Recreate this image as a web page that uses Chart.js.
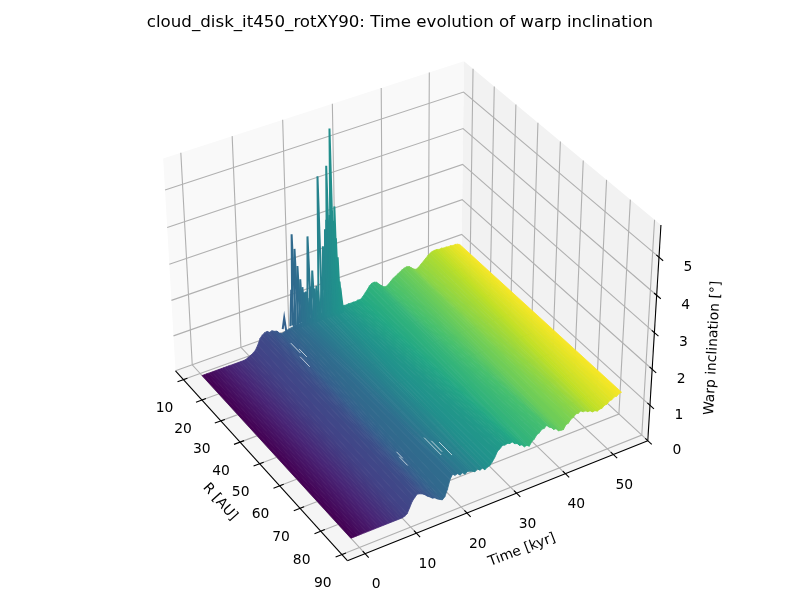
<!DOCTYPE html>
<html>
<head>
<meta charset="utf-8">
<style>
  html, body { margin: 0; padding: 0; background: #fff; }
  canvas { display: block; }
</style>
<script src="https://cdn.jsdelivr.net/npm/chart.js@4"></script>
</head>
<body>
<canvas id="chart" width="800" height="600"></canvas>
<script>
//---------------------------------------- data ----------------------------------------//
const titleText = "cloud_disk_it450_rotXY90: Time evolution of warp inclination";
const rTicks = [10, 20, 30, 40, 50, 60, 70, 80, 90];
const timeTicks = [0, 10, 20, 30, 40, 50];
const incTicks = [0, 1, 2, 3, 4, 5];

const innerR = 11;
const outerR = 86;

const timeKyr = [
  0, 0.5, 1, 1.5, 2, 2.5, 3, 3.5, 4, 4.5,
  5, 5.5, 6, 6.5, 7, 7.5, 8, 8.5, 9, 9.5,
  10, 10.5, 11, 11.5, 12, 12.5, 13, 13.5, 14, 14.5,
  15, 15.5, 16, 16.5, 17, 17.5, 18, 18.5, 19, 19.5,
  20, 20.5, 21, 21.5, 22, 22.5, 23, 23.5, 24, 24.5,
  25, 25.5, 26, 26.5, 27, 27.5, 28, 28.5, 29, 29.5,
  30, 30.5, 31, 31.5, 32, 32.5, 33, 33.5, 34, 34.5,
  35, 35.5, 36, 36.5, 37, 37.5, 38, 38.5, 39, 39.5,
  40, 40.5, 41, 41.5, 42, 42.5, 43, 43.5, 44, 44.5,
  45, 45.5, 46, 46.5, 47, 47.5, 48, 48.5, 49, 49.5,
  50, 50.5, 51, 51.5, 52, 52.5, 53, 53.5, 54, 54.5
];

// inclination at the inner edge of the disk, one value per time
const innerInc = [
  0, 0, 0, 0, 0, 0, 0, 0, 0, 0,
  0, 0, 0, 0, 0, 0, 0, 0, 0.01, 0.05,
  0.08, 0.12, 0.18, 0.3, 0.46, 0.54, 0.58, 0.59, 0.54, 0.56,
  0.52, 0.5, 0.42, 0.38, 0.4, 0.42, 0.44, 0.45, 0.46, 0.47,
  0.48, 0.48, 0.5, 0.5, 0.52, 0.52, 0.53, 0.54, 0.54, 0.55,
  0.56, 0.56, 0.57, 0.58, 0.58, 0.59, 0.58, 0.56, 0.57, 0.55,
  0.54, 0.55, 0.54, 0.55, 0.54, 0.56, 0.55, 0.6, 0.68, 0.76,
  0.85, 0.9, 0.91, 0.88, 0.81, 0.74, 0.68, 0.66, 0.7, 0.76,
  0.82, 0.86, 0.9, 0.94, 0.98, 1.01, 1.02, 1, 0.94, 0.88,
  0.85, 0.88, 0.94, 1, 1.06, 1.12, 1.17, 1.2, 1.21, 1.21,
  1.19, 1.2, 1.18, 1.19, 1.17, 1.18, 1.16, 1.17, 1.15, 1.12
];

// inclination at the outer edge of the disk, one value per time
const outerInc = [
  0, 0, 0, 0, 0, 0, 0, 0, 0, 0,
  0, 0, 0, 0, 0, 0, 0, 0, 0, 0,
  0, 0.02, 0.06, 0.2, 0.35, 0.43, 0.5, 0.48, 0.45, 0.4,
  0.33, 0.28, 0.22, 0.2, 0.14, 0.1, 0.06, 0.12, 0.3, 0.55,
  0.67, 0.61, 0.63, 0.56, 0.6, 0.53, 0.58, 0.56, 0.53, 0.49,
  0.54, 0.48, 0.51, 0.44, 0.48, 0.5, 0.58, 0.68, 0.82, 0.86,
  0.93, 0.91, 0.93, 0.9, 0.92, 0.84, 0.82, 0.74, 0.73, 0.65,
  0.66, 0.61, 0.71, 0.76, 0.85, 0.88, 0.95, 0.95, 1.01, 0.93,
  0.89, 0.81, 0.81, 0.72, 0.71, 0.7, 0.81, 0.83, 0.91, 0.94,
  1.01, 1, 1.04, 0.99, 0.99, 0.94, 0.94, 0.88, 0.89, 0.85,
  0.88, 0.88, 0.94, 0.94, 1.01, 1.01, 1.07, 1.06, 1.11, 1.12
];

// narrow peaks near the inner edge
const spikeTimes = [16.7, 18.3, 18.7, 19.2, 19.7, 20.2, 20.6, 20.9, 21.3, 21.6, 21.9, 22.2, 22.7, 23.1, 23.5, 23.8, 24.2, 24.6, 25, 25.5, 25.8, 26, 26.2, 26.5, 26.8, 27, 27.3, 27.5, 27.7, 28, 28.3, 28.6];
const spikeInc = [0.88, 1.6, 3.13, 2.7, 2.2, 1.8, 1.56, 1.4, 1.4, 1.2, 2.92, 1.5, 1.93, 1.4, 1.45, 1.3, 4.46, 1.6, 2.5, 2.95, 3.2, 4.66, 2.9, 3.3, 5.62, 3.4, 3.1, 3.49, 2.6, 2.05, 1.35, 0.95];
const spikeR = 12;

// thin white slits left open between the curves
const slitTimes = [16, 15.5, 16.5, 17.1, 17.4, 23, 23.6, 24.3];
const slitStartR = [17, 23, 20, 68, 66, 66, 68, 70];
const slitEndR = [22, 28, 24, 72, 69, 74, 73, 76];
const slitInc = [0.47, 0.45, 0.45, 0.2, 0.2, 0.3, 0.3, 0.35];

//---------------------------------------- 3D view ----------------------------------------//
const rLim = [5.65, 92.6];
const timeLim = [-3.4, 57.3];
const incLim = [0, 5.83];

const elev = 36 * Math.PI / 180;
const azim = -31.5 * Math.PI / 180;
const dist = 10;
const boxX = 1.1905, boxY = 1.1905, boxZ = 0.8929;
const viewScale = 2960;
const viewCx = 408;
const viewCy = 301;

const eyeDir = [Math.cos(elev) * Math.cos(azim), Math.cos(elev) * Math.sin(azim), Math.sin(elev)];
const rightDir = [-Math.sin(azim), Math.cos(azim), 0];
const upDir = [
  eyeDir[1] * rightDir[2] - eyeDir[2] * rightDir[1],
  eyeDir[2] * rightDir[0] - eyeDir[0] * rightDir[2],
  eyeDir[0] * rightDir[1] - eyeDir[1] * rightDir[0]
];

function dot(a, b) {
  return a[0] * b[0] + a[1] * b[1] + a[2] * b[2];
}

// data (R, time, inclination) -> value on the two hidden chart scales
function project(r, t, inc) {
  const p = [
    ((r - rLim[0]) / (rLim[1] - rLim[0]) - 0.5) * boxX,
    ((t - timeLim[0]) / (timeLim[1] - timeLim[0]) - 0.5) * boxY,
    ((inc - incLim[0]) / (incLim[1] - incLim[0]) - 0.5) * boxZ
  ];
  const depth = dist - dot(p, eyeDir);
  return {
    x: viewCx + viewScale * dot(p, rightDir) / depth,
    y: viewCy - viewScale * dot(p, upDir) / depth
  };
}

const viridisStops = ["#440154", "#482475", "#414487", "#355f8d", "#2a788e", "#21918c", "#22a884", "#44bf70", "#7ad151", "#bddf26", "#fde725"];

function viridis(f) {
  const pos = Math.min(Math.max(f, 0), 1) * (viridisStops.length - 1);
  const i = Math.min(Math.floor(pos), viridisStops.length - 2);
  const a = parseInt(viridisStops[i].slice(1), 16);
  const b = parseInt(viridisStops[i + 1].slice(1), 16);
  const k = pos - i;
  const mix = shift => Math.round(((a >> shift) & 255) * (1 - k) + ((b >> shift) & 255) * k);
  return `rgb(${mix(16)}, ${mix(8)}, ${mix(0)})`;
}

//---------------------------------------- datasets ----------------------------------------//
const datasets = [];
const lastTime = timeKyr[timeKyr.length - 1];

function addLine(points, color, width, order) {
  datasets.push({ data: points, showLine: true, pointRadius: 0, borderColor: color, borderWidth: width, order: order, fill: false });
}

function addShape(points, color, order, border) {
  datasets.push({
    data: points.concat([points[0]]), showLine: true, pointRadius: 0, fill: "shape",
    backgroundColor: color, borderColor: color, borderWidth: border, order: order, borderJoinStyle: "round"
  });
}

// panes
addShape([project(rLim[0], timeLim[0], incLim[0]), project(rLim[0], timeLim[1], incLim[0]), project(rLim[0], timeLim[1], incLim[1]), project(rLim[0], timeLim[0], incLim[1])], "#f9f9f9", 5000, 0);
addShape([project(rLim[0], timeLim[1], incLim[0]), project(rLim[1], timeLim[1], incLim[0]), project(rLim[1], timeLim[1], incLim[1]), project(rLim[0], timeLim[1], incLim[1])], "#f2f2f2", 5000, 0);
addShape([project(rLim[0], timeLim[0], incLim[0]), project(rLim[1], timeLim[0], incLim[0]), project(rLim[1], timeLim[1], incLim[0]), project(rLim[0], timeLim[1], incLim[0])], "#f5f5f5", 5000, 0);

// grid
const gridColor = "#b0b0b0";
for (const r of rTicks) {
  addLine([project(r, timeLim[0], incLim[0]), project(r, timeLim[1], incLim[0]), project(r, timeLim[1], incLim[1])], gridColor, 1.1, 4000);
}
for (const t of timeTicks) {
  addLine([project(rLim[1], t, incLim[0]), project(rLim[0], t, incLim[0]), project(rLim[0], t, incLim[1])], gridColor, 1.1, 4000);
}
for (const z of incTicks) {
  addLine([project(rLim[0], timeLim[0], z), project(rLim[0], timeLim[1], z), project(rLim[1], timeLim[1], z)], gridColor, 1.1, 4000);
}

// axes and ticks
addLine([project(rLim[0], timeLim[0], incLim[0]), project(rLim[1], timeLim[0], incLim[0])], "#000", 1.1, 3000);
addLine([project(rLim[1], timeLim[0], incLim[0]), project(rLim[1], timeLim[1], incLim[0])], "#000", 1.1, 3000);
addLine([project(rLim[1], timeLim[1], incLim[0]), project(rLim[1], timeLim[1], incLim[1])], "#000", 1.1, 3000);
for (const r of rTicks) {
  addLine([project(r, timeLim[0] + 0.8, incLim[0]), project(r, timeLim[0] - 1.2, incLim[0])], "#000", 1.1, 3000);
}
for (const t of timeTicks) {
  addLine([project(rLim[1] - 1.1, t, incLim[0]), project(rLim[1] + 1.7, t, incLim[0])], "#000", 1.1, 3000);
}
for (const z of incTicks) {
  addLine([project(rLim[1] - 1.1, timeLim[1], z), project(rLim[1] + 1.7, timeLim[1], z)], "#000", 1.1, 3000);
}

// surface, far rows first through the order value
for (let i = 0; i < timeKyr.length - 1; i++) {
  addShape([
    project(innerR, timeKyr[i], innerInc[i]),
    project(outerR, timeKyr[i], outerInc[i]),
    project(outerR, timeKyr[i + 1], outerInc[i + 1]),
    project(innerR, timeKyr[i + 1], innerInc[i + 1])
  ], viridis(timeKyr[i] / lastTime), timeKyr[i], 0.8);
}

// peaks
for (let i = 0; i < spikeTimes.length; i++) {
  const t = spikeTimes[i];
  addLine([
    project(spikeR - 1, t, 0.5),
    project(spikeR, t, spikeInc[i]),
    project(spikeR + 1, t, 0.5)
  ], viridis(t / lastTime), 2, t);
}

// slits
for (let i = 0; i < slitTimes.length; i++) {
  addLine([
    project(slitStartR[i], slitTimes[i], slitInc[i]),
    project(slitEndR[i], slitTimes[i], slitInc[i])
  ], "rgba(255, 255, 255, 0.85)", 0.8, -1);
}

//---------------------------------------- texts ----------------------------------------//
const textFont = '"DejaVu Sans"';

const labelsPlugin = {
  id: "labels3d",
  afterDatasetsDraw(chart) {
    const ctx = chart.ctx;
    const sx = chart.scales.x;
    const sy = chart.scales.y;
    const put = (text, p, dx, dy, size, angle) => {
      ctx.save();
      ctx.translate(sx.getPixelForValue(p.x) + dx, sy.getPixelForValue(p.y) + dy);
      ctx.rotate((angle || 0) * Math.PI / 180);
      ctx.font = `${size}px ${textFont}`;
      ctx.fillStyle = "#000";
      ctx.textAlign = "center";
      ctx.textBaseline = "middle";
      ctx.fillText(text, 0, 0);
      ctx.restore();
    };
    put(titleText, { x: 400, y: 23 }, 0, 0, 16.67);
    for (const r of rTicks) put(String(r), project(r, timeLim[0], incLim[0]), -19, 29, 13.89);
    for (const t of timeTicks) put(String(t), project(rLim[1], t, incLim[0]), 11, 31, 13.89);
    for (const z of incTicks) put(String(z), project(rLim[1], timeLim[1], z), 29, 10, 13.89);
    put("R [AU]", { x: 220, y: 502 }, 0, 0, 13.89, 48);
    put("Time [kyr]", { x: 522, y: 550 }, 0, 0, 13.89, -21);
    put("Warp inclination [°]", { x: 713, y: 348 }, 0, 0, 13.89, -87);
  }
};

new Chart(document.getElementById("chart"), {
  type: "scatter",
  data: { datasets: datasets },
  options: {
    responsive: false,
    animation: false,
    layout: { padding: 0 },
    plugins: { legend: { display: false }, tooltip: { enabled: false }, title: { display: false } },
    scales: {
      x: { type: "linear", min: 0, max: 800, display: false },
      y: { type: "linear", min: 0, max: 600, reverse: true, display: false }
    }
  },
  plugins: [labelsPlugin]
});
</script>
</body>
</html>
